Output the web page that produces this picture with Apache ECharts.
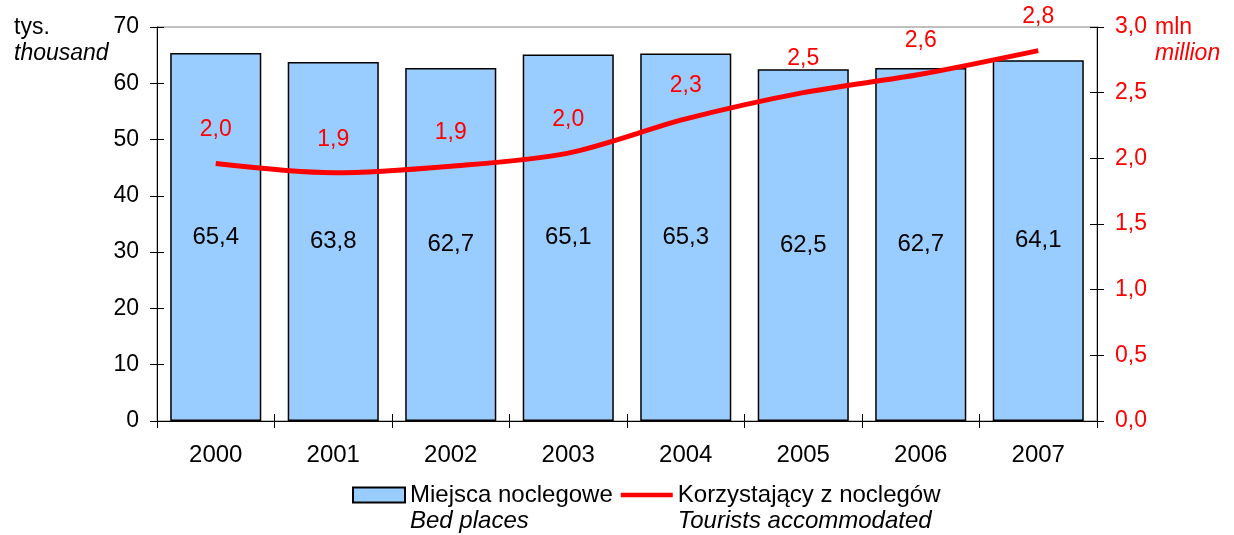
<!DOCTYPE html>
<html>
<head>
<meta charset="utf-8">
<script src="https://cdn.jsdelivr.net/npm/echarts@6/dist/echarts.min.js"></script>
<style>
  html, body { margin: 0; padding: 0; background: #fff; }
  #chart { width: 1234px; height: 535px; }
</style>
</head>
<body>
<div id="chart"></div>
<script>
// Bed places (thousand) and tourists accommodated (million), 2000-2007
const years = ['2000', '2001', '2002', '2003', '2004', '2005', '2006', '2007'];
const bedPlaces = [65.4, 63.8, 62.7, 65.1, 65.3, 62.5, 62.7, 64.1];
const tourists = [1.96, 1.89, 1.94, 2.04, 2.30, 2.50, 2.64, 2.82];

const leftTicks = { min: 0, max: 70, interval: 10 };
const rightTicks = { min: 0, max: 3, interval: 0.5 };

const FONT = "'Liberation Sans', Arial, sans-serif";
const FS = 23;
const LEGEND_FS = 24;
const comma = (v, d) => Number(v).toFixed(d).replace('.', ',');

const chart = echarts.init(document.getElementById('chart'), null, { renderer: 'canvas' });

const hiddenAxisParts = {
  axisLabel: { show: false },
  axisLine: { show: false },
  splitLine: { show: false }
};

chart.setOption({
  animation: false,
  textStyle: { fontFamily: FONT },
  grid: {
    left: 157, right: 137, top: 27, bottom: 114,
    show: true, borderColor: '#808080', borderWidth: 1
  },
  xAxis: [
    {
      type: 'category',
      data: years,
      boundaryGap: true,
      axisLine: { lineStyle: { color: '#000', width: 1 } },
      axisTick: { show: true, length: 7, lineStyle: { color: '#000' } },
      axisLabel: { color: '#000', fontSize: LEGEND_FS, margin: 22, fontFamily: FONT },
      splitLine: { show: false }
    },
    {
      type: 'category',
      data: years,
      boundaryGap: true,
      position: 'bottom',
      axisTick: { show: true, inside: true, length: 7, lineStyle: { color: '#000' } },
      ...hiddenAxisParts
    }
  ],
  yAxis: [
    {
      type: 'value',
      position: 'left',
      ...leftTicks,
      axisLine: { show: true, lineStyle: { color: '#000', width: 1 } },
      axisTick: { show: true, length: 7, lineStyle: { color: '#000' } },
      axisLabel: { color: '#000', fontSize: FS, margin: 18, fontFamily: FONT },
      splitLine: { show: false }
    },
    {
      type: 'value',
      position: 'right',
      ...rightTicks,
      axisLine: { show: true, lineStyle: { color: '#000', width: 1 } },
      axisTick: { show: true, length: 7, lineStyle: { color: '#000' } },
      axisLabel: {
        color: '#ff0000', fontSize: FS, margin: 18, fontFamily: FONT,
        formatter: v => comma(v, 1)
      },
      splitLine: { show: false }
    },
    {
      type: 'value',
      position: 'left',
      ...leftTicks,
      axisTick: { show: true, inside: true, length: 7, lineStyle: { color: '#000' } },
      ...hiddenAxisParts
    },
    {
      type: 'value',
      position: 'right',
      ...rightTicks,
      axisTick: { show: true, inside: true, length: 7, lineStyle: { color: '#000' } },
      ...hiddenAxisParts
    }
  ],
  legend: {
    left: 347,
    top: 478,
    itemWidth: 52,
    itemHeight: 15,
    itemGap: 8,
    selectedMode: false,
    textStyle: {
      color: '#000',
      fontSize: LEGEND_FS,
      fontFamily: FONT,
      padding: [26, 0, 0, 0],
      rich: {
        pl: { fontSize: LEGEND_FS, lineHeight: 26, fontFamily: FONT, color: '#000' },
        en: { fontSize: LEGEND_FS, lineHeight: 26, fontFamily: FONT, fontStyle: 'italic', color: '#000' }
      }
    },
    formatter: name => {
      const en = name === 'Miejsca noclegowe' ? 'Bed places' : 'Tourists accommodated';
      return '{pl|' + name + '}\n{en|' + en + '}';
    },
    data: [
      { name: 'Miejsca noclegowe', icon: 'rect' },
      {
        name: 'Korzystający z noclegów',
        icon: 'path://M0,0H56V5H0Z',
        itemStyle: { color: '#ff0000', borderWidth: 0 }
      }
    ]
  },
  series: [
    {
      name: 'Miejsca noclegowe',
      type: 'bar',
      xAxisIndex: 0,
      yAxisIndex: 0,
      data: bedPlaces,
      barCategoryGap: '22.5%',
      itemStyle: { color: '#99ccff', borderColor: '#000', borderWidth: 1.5 },
      label: {
        show: true,
        position: 'inside',
        color: '#000',
        fontSize: LEGEND_FS,
        fontFamily: FONT,
        formatter: p => comma(p.value, 1)
      },
      z: 2
    },
    {
      name: 'Korzystający z noclegów',
      type: 'line',
      xAxisIndex: 0,
      yAxisIndex: 1,
      data: tourists,
      smooth: 0.3,
      symbol: 'circle',
      symbolSize: 0.1,
      showSymbol: true,
      lineStyle: { color: '#ff0000', width: 5 },
      itemStyle: { color: '#ff0000' },
      label: {
        show: true,
        position: 'top',
        distance: 22,
        color: '#ff0000',
        fontSize: FS,
        fontFamily: FONT,
        formatter: p => comma(p.value, 1)
      },
      z: 5
    }
  ],
  graphic: [
    { type: 'text', left: 14, top: 16, style: { text: 'tys.', font: FS + 'px ' + FONT, fill: '#000' } },
    { type: 'text', left: 14, top: 42, style: { text: 'thousand', font: 'italic ' + FS + 'px ' + FONT, fill: '#000' } },
    { type: 'text', left: 1155, top: 16, style: { text: 'mln', font: FS + 'px ' + FONT, fill: '#ff0000' } },
    { type: 'text', left: 1155, top: 42, style: { text: 'million', font: 'italic ' + FS + 'px ' + FONT, fill: '#ff0000' } }
  ]
});
</script>
</body>
</html>
